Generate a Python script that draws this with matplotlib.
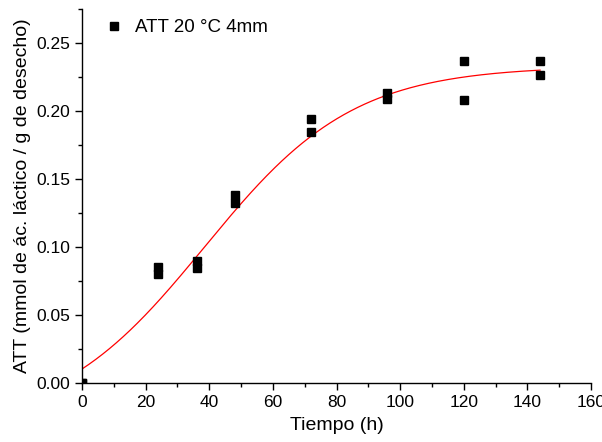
import numpy as np
import matplotlib
matplotlib.use("Agg")
import matplotlib.pyplot as plt

plt.rcParams['font.family'] = ['Liberation Sans', 'DejaVu Sans']

# Data (time in h, ATT)
time_h = [0, 0, 24, 24, 36, 36, 48, 48, 72, 72, 96, 96, 120, 120, 144, 144]
att = [0.0, 0.0, 0.0852, 0.0801, 0.0900, 0.0849, 0.138, 0.132,
       0.194, 0.1844, 0.2131, 0.2087, 0.2366, 0.2080, 0.2366, 0.2267]

# Boltzmann fit parameters (A1, A2, x0, dx)
A1, A2, X0, DX = -0.033, 0.233, 38.5, 23.5

legend_label = "ATT 20 °C 4mm"
xlabel = "Tiempo (h)"
ylabel = "ATT (mmol de ác. láctico / g de desecho)"

fig = plt.figure(figsize=(6.02, 4.42), dpi=100)
ax = fig.add_axes([82/602, 1-383/442, (591-82)/602, (383-9)/442])

xf = np.linspace(0, 144, 400)
yf = A2 + (A1 - A2) / (1 + np.exp((xf - X0) / DX))
ax.plot(xf, yf, color='red', lw=0.9, zorder=2)
ax.plot(time_h, att, 's', color='black', ms=5.4, label=legend_label, zorder=3)

ax.set_xlim(0, 160)
ax.set_ylim(0, 0.275)
ax.set_xticks(np.arange(0, 161, 20))
ax.set_xticks(np.arange(0, 161, 10), minor=True)
ax.set_yticks(np.arange(0, 0.26, 0.05))
ax.set_yticks(np.arange(0, 0.276, 0.025), minor=True)
ax.yaxis.set_major_formatter(matplotlib.ticker.FormatStrFormatter('%.2f'))

for s in ['top', 'right']:
    ax.spines[s].set_visible(False)
for s in ['left', 'bottom']:
    ax.spines[s].set_linewidth(1.0)
ax.tick_params(which='major', direction='out', length=5, width=1, labelsize=12.5)
ax.tick_params(which='minor', direction='out', length=3, width=1)

ax.set_xlabel(xlabel, fontsize=14, labelpad=5)
ax.set_ylabel(ylabel, fontsize=14, labelpad=4)

leg = ax.legend(loc='upper left', frameon=False, fontsize=13.5,
                bbox_to_anchor=(0.012, 1.018), handlelength=1.0,
                handletextpad=0.6, markerscale=1.0)

fig.savefig("out.png", dpi=100)
